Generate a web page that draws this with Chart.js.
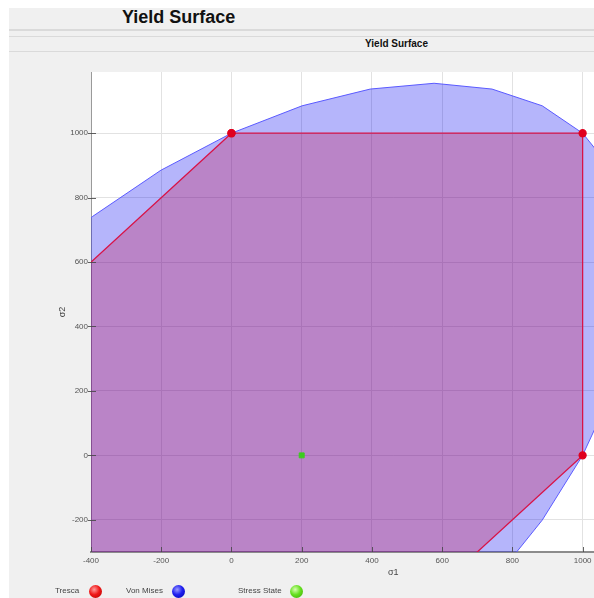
<!DOCTYPE html>
<html>
<head>
<meta charset="utf-8">
<script src="https://cdn.jsdelivr.net/npm/chart.js@4/dist/chart.umd.min.js"></script>
<style>
  html, body { margin: 0; padding: 0; width: 594px; height: 598px; overflow: hidden; background: #fff;
    font-family: "Liberation Sans", Arial, sans-serif; }
  #panel { position: absolute; left: 9px; top: 8px; width: 720px; height: 600px; background: #f0f0f0; }
  .rule { position: absolute; left: 9px; width: 720px; background: #dadada; }
  #title { position: absolute; left: 122px; top: 7px; font-weight: bold; font-size: 18px; color: #111; white-space: nowrap; }
  #subtitle { position: absolute; left: 365px; top: 38px; font-weight: bold; font-size: 10px; color: #111; white-space: nowrap; }
  #chart { position: absolute; left: 0; top: 0; }
  .lg-text { position: absolute; top: 586px; font-size: 8px; line-height: 10px; color: #444; white-space: nowrap; }
  .ball { position: absolute; top: 585px; width: 13px; height: 13px; border-radius: 50%; }
</style>
</head>
<body>
<div id="panel"></div>
<div class="rule" style="top:29px;height:2px"></div>
<div class="rule" style="top:36px;height:1px"></div>
<div class="rule" style="top:51px;height:1px"></div>
<div id="title">Yield Surface</div>
<div id="subtitle">Yield Surface</div>
<canvas id="chart" width="701" height="598"></canvas>

<span class="lg-text" style="left:55px">Tresca</span>
<span class="ball" style="left:89px;background:radial-gradient(circle at 40% 35%, #ff9a9a 0%, #f01818 45%, #b00000 100%)"></span>
<span class="lg-text" style="left:126px">Von Mises</span>
<span class="ball" style="left:172px;background:radial-gradient(circle at 40% 35%, #9a9aff 0%, #2020f0 45%, #0000a8 100%)"></span>
<span class="lg-text" style="left:238px">Stress State</span>
<span class="ball" style="left:290px;background:radial-gradient(circle at 40% 35%, #d8ffb0 0%, #66e020 45%, #3aa800 100%)"></span>

<script>
// Von Mises ellipse (yield stress 1000), vertices of the drawn polygon
const vonMisesS1 = [1000, 1085, 1137, 1155, 1137, 1085, 1000, 885, 742, 577, 395, 201, 0, -201, -395, -577, -742, -885,
                    -1000, -1085, -1137, -1155, -1137, -1085, -1000, -885, -742, -577, -395, -201, 0, 201, 395, 577, 742, 885, 1000];
const vonMisesS2 = [1000, 885, 742, 577, 395, 201, 0, -201, -395, -577, -742, -885, -1000, -1085, -1137, -1155, -1137, -1085,
                    -1000, -885, -742, -577, -395, -201, 0, 201, 395, 577, 742, 885, 1000, 1085, 1137, 1155, 1137, 1085, 1000];

// Tresca hexagon
const trescaS1 = [0, 1000, 1000, 0, -1000, -1000, 0];
const trescaS2 = [1000, 1000, 0, -1000, -1000, 0, 1000];

// Current stress state
const stressS1 = [200];
const stressS2 = [0];

// Axis ticks
const xTicks = [-400, -200, 0, 200, 400, 600, 800, 1000, 1200];
const yTicks = [-200, 0, 200, 400, 600, 800, 1000];

const toPoints = (xs, ys) => xs.map((v, i) => ({ x: v, y: ys[i] }));

// White plotting area on the grey panel
const plotBackground = {
  id: 'plotBackground',
  beforeDraw(chart) {
    const { ctx, chartArea: a } = chart;
    ctx.save();
    ctx.fillStyle = '#ffffff';
    ctx.fillRect(a.left, a.top, a.right - a.left, a.bottom - a.top);
    ctx.restore();
  }
};

// Short tick marks that sit on the axes, pointing into the plot
const axisTickMarks = {
  id: 'axisTickMarks',
  afterDatasetsDraw(chart) {
    const { ctx, chartArea: a, scales: { x, y } } = chart;
    ctx.save();
    ctx.strokeStyle = 'rgba(70,70,70,0.85)';
    ctx.lineWidth = 1;
    x.ticks.forEach(t => {
      const px = Math.round(x.getPixelForValue(t.value)) + 0.5;
      ctx.beginPath(); ctx.moveTo(px, a.bottom); ctx.lineTo(px, a.bottom - 5); ctx.stroke();
    });
    y.ticks.forEach(t => {
      const py = Math.round(y.getPixelForValue(t.value)) + 0.5;
      ctx.beginPath(); ctx.moveTo(a.left - 3, py); ctx.lineTo(a.left + 5, py); ctx.stroke();
    });
    ctx.restore();
  }
};

const tickFont = { family: '"Liberation Sans", Arial, sans-serif', size: 8 };
const titleFont = { family: '"Liberation Sans", Arial, sans-serif', size: 9 };
const plainLabel = v => String(v);

new Chart(document.getElementById('chart'), {
  type: 'scatter',
  data: {
    datasets: [
      {
        label: 'Stress State',
        data: toPoints(stressS1, stressS2),
        pointStyle: 'rect',
        pointRadius: 3.5,
        pointBackgroundColor: '#3ccc1e',
        pointBorderColor: '#3ccc1e',
        order: 0
      },
      {
        label: 'Tresca',
        data: toPoints(trescaS1, trescaS2),
        showLine: true,
        fill: 'shape',
        backgroundColor: 'rgba(200,0,60,0.27)',
        borderColor: '#d81448',
        borderWidth: 1.3,
        pointRadius: 3.5,
        pointBackgroundColor: '#e0001e',
        pointBorderColor: '#e0001e',
        tension: 0,
        order: 1
      },
      {
        label: 'Von Mises',
        data: toPoints(vonMisesS1, vonMisesS2),
        showLine: true,
        fill: 'shape',
        backgroundColor: 'rgba(0,0,240,0.29)',
        borderColor: '#5a5aff',
        borderWidth: 1,
        pointRadius: 0,
        tension: 0,
        order: 2
      }
    ]
  },
  options: {
    responsive: false,
    animation: false,
    layout: { padding: { left: 50, top: 72, right: 0, bottom: 16 } },
    plugins: { legend: { display: false }, tooltip: { enabled: false }, title: { display: false } },
    scales: {
      x: {
        type: 'linear',
        min: -400,
        max: 1322,
        afterFit: s => { s.height = 30; },
        afterBuildTicks: s => { s.ticks = xTicks.map(v => ({ value: v })); },
        grid: { color: '#e2e2e2', drawTicks: false },
        border: { color: '#8c8c8c', width: 2 },
        ticks: { font: tickFont, color: '#555', padding: 4, maxRotation: 0, autoSkip: false, callback: plainLabel },
        title: { display: true, text: 'σ1', font: titleFont, color: '#444', padding: { top: 0, bottom: 4 } }
      },
      y: {
        type: 'linear',
        min: -300,
        max: 1190,
        afterFit: s => { s.width = 41; },
        afterBuildTicks: s => { s.ticks = yTicks.map(v => ({ value: v })); },
        grid: { color: '#e2e2e2', drawTicks: false },
        border: { color: '#9a9a9a', width: 1 },
        ticks: { font: tickFont, color: '#555', padding: 3, autoSkip: false, callback: plainLabel },
        title: { display: true, text: 'σ2', font: titleFont, color: '#444', padding: { top: 7, bottom: 0 } }
      }
    }
  },
  plugins: [plotBackground, axisTickMarks]
});
</script>
</body>
</html>
